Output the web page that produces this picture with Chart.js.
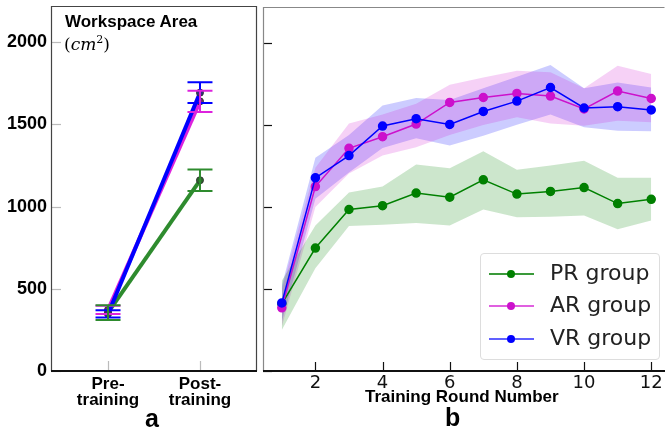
<!DOCTYPE html>
<html>
<head>
<meta charset="utf-8">
<script src="https://cdn.jsdelivr.net/npm/chart.js@4"></script>
<style>
  body { margin: 0; background: #fff; }
  #wrap { position: relative; width: 665px; height: 433px; overflow: hidden; }
  canvas { position: absolute; top: 0; }
  .txt { position: absolute; white-space: nowrap; color: #000; }
  .bold { font-family: "Liberation Sans", Arial, sans-serif; font-weight: bold; }
  #legend { position: absolute; left: 480px; top: 253px; width: 178px; height: 105px;
            border: 1px solid #ddd; border-radius: 4px; background: rgba(255,255,255,0.8);
            font-family: "DejaVu Sans", sans-serif; font-size: 22px; color: #222; }
  .row { position: absolute; left: 0; height: 30px; width: 178px; }
  .row .ln { position: absolute; left: 8px; top: 14px; width: 45px; height: 2px; }
  .row .dot { position: absolute; left: 26px; top: 11px; width: 8px; height: 8px; border-radius: 50%; }
  .row span { position: absolute; left: 69px; top: 1px; }
</style>
</head>
<body>
<div id="wrap">
  <canvas id="left" width="260" height="433" style="left:0;width:260px;height:433px"></canvas>
  <canvas id="right" width="407" height="433" style="left:258px;width:407px;height:433px"></canvas>

  <div class="txt bold" style="left:65px;top:12px;font-size:17px">Workspace Area</div>
  <div class="txt" style="left:64px;top:33px;font-size:17px;font-family:'DejaVu Serif',serif">(<i>cm</i><sup style="font-size:11px">2</sup>)</div>
  <div class="txt bold" style="left:145px;top:404px;font-size:25px">a</div>
  <div class="txt bold" style="left:365px;top:387px;font-size:17px">Training Round Number</div>
  <div class="txt bold" style="left:445px;top:403px;font-size:25px">b</div>

  <div id="legend">
    <div class="row" style="top:5px"><div class="ln" style="background:#3a9a3a"></div><div class="dot" style="background:#008000"></div><span>PR group</span></div>
    <div class="row" style="top:37px"><div class="ln" style="background:#e060e0"></div><div class="dot" style="background:#cc11cc"></div><span>AR group</span></div>
    <div class="row" style="top:70px"><div class="ln" style="background:#6060ff"></div><div class="dot" style="background:#0000ff"></div><span>VR group</span></div>
  </div>
</div>

<script>
// panel a: pre / post training
const phaseLabels = [['Pre-', 'training'], ['Post-', 'training']];
const prPrePost = [355, 1160];
const arPrePost = [372, 1640];
const vrPrePost = [347, 1693];
const prPrePostErr = [45, 65];
const arPrePostErr = [25, 65];
const vrPrePostErr = [22, 63];

// panel b: training rounds
const rounds = [1, 2, 3, 4, 5, 6, 7, 8, 9, 10, 11, 12];
const prMean = [410, 750, 985, 1008, 1085, 1060, 1166, 1079, 1095, 1119, 1021, 1047];
const prUpper = [550, 888, 1089, 1125, 1259, 1237, 1340, 1227, 1253, 1283, 1178, 1178];
const prLower = [250, 626, 884, 892, 902, 888, 985, 938, 940, 949, 864, 918];
const arMean = [385, 1125, 1358, 1429, 1506, 1638, 1668, 1693, 1677, 1598, 1707, 1662];
const arUpper = [500, 1240, 1510, 1565, 1630, 1746, 1790, 1831, 1822, 1725, 1861, 1812];
const arLower = [270, 1000, 1204, 1314, 1364, 1440, 1500, 1547, 1510, 1496, 1527, 1517];
const vrMean = [415, 1178, 1314, 1494, 1539, 1504, 1583, 1646, 1729, 1604, 1612, 1592];
const vrUpper = [520, 1300, 1440, 1620, 1665, 1653, 1725, 1795, 1867, 1725, 1760, 1729];
const vrLower = [300, 1050, 1210, 1360, 1420, 1375, 1435, 1502, 1565, 1486, 1466, 1462];

const yTicks = [0, 500, 1000, 1500, 2000];
const roundTicks = [2, 4, 6, 8, 10, 12];
const yMax = 2220;

// inward tick marks + frame
const frameTicks = {
    id: 'frameTicks',
    afterDatasetsDraw(chart, args, opts) {
        const { ctx, chartArea: a, scales } = chart;
        ctx.save();
        ctx.strokeStyle = opts.tickColor;
        ctx.lineWidth = 1.2;
        scales.x.ticks.forEach(t => {
            const px = Math.round(scales.x.getPixelForValue(t.value)) + 0.5;
            ctx.beginPath(); ctx.moveTo(px, a.bottom); ctx.lineTo(px, a.bottom - opts.len); ctx.stroke();
        });
        scales.y.ticks.forEach(t => {
            const py = Math.round(scales.y.getPixelForValue(t.value)) + 0.5;
            ctx.beginPath(); ctx.moveTo(a.left, py); ctx.lineTo(a.left + opts.len, py); ctx.stroke();
        });
        ctx.strokeStyle = opts.frameColor;
        ctx.lineWidth = 1.2;
        ctx.beginPath();
        ctx.moveTo(a.left + 0.5, a.bottom); ctx.lineTo(a.left + 0.5, a.top + 0.5);
        ctx.lineTo(a.right - 0.5, a.top + 0.5);
        if (opts.rightSpine) ctx.lineTo(a.right - 0.5, a.bottom);
        ctx.stroke();
        ctx.strokeStyle = '#111';
        ctx.lineWidth = 2;
        ctx.beginPath(); ctx.moveTo(a.left, a.bottom); ctx.lineTo(a.right, a.bottom); ctx.stroke();
        ctx.restore();
    }
};

// error bars for panel a
const errorBars = {
    id: 'errorBars',
    afterDatasetsDraw(chart) {
        const { ctx, scales } = chart;
        ctx.save();
        ctx.lineWidth = 2;
        chart.data.datasets.forEach(ds => {
            ds.data.forEach((p, i) => {
                const x = scales.x.getPixelForValue(p.x);
                const y1 = scales.y.getPixelForValue(p.y - ds.err[i]);
                const y2 = scales.y.getPixelForValue(p.y + ds.err[i]);
                ctx.strokeStyle = ds.borderColor;
                ctx.beginPath();
                ctx.moveTo(x, y1); ctx.lineTo(x, y2);
                ctx.moveTo(x - 12.5, y1); ctx.lineTo(x + 12.5, y1);
                ctx.moveTo(x - 12.5, y2); ctx.lineTo(x + 12.5, y2);
                ctx.stroke();
            });
        });
        ctx.restore();
    }
};

function noPadX(s, h) { s.height = h; s.paddingLeft = 0; s.paddingRight = 0; }
function noPadY(s, w) { s.width = w; s.paddingTop = 0; s.paddingBottom = 0; }

function phaseSet(vals, err, color, dark, order) {
    return {
        data: vals.map((v, i) => ({ x: i, y: v })),
        err: err,
        borderColor: color,
        borderWidth: 4,
        pointRadius: 3.5,
        pointBackgroundColor: dark,
        pointBorderColor: '#333',
        pointBorderWidth: 1,
        order: order
    };
}

new Chart(document.getElementById('left'), {
    type: 'line',
    data: {
        datasets: [
            phaseSet(vrPrePost, vrPrePostErr, '#0000ff', '#303080', 1),
            phaseSet(arPrePost, arPrePostErr, '#dd22dd', '#703070', 2),
            phaseSet(prPrePost, prPrePostErr, '#2e8b2e', '#2a6a2a', 3)
        ]
    },
    options: {
        responsive: false,
        animation: false,
        layout: { autoPadding: false, padding: { top: 6, right: 3, left: 0, bottom: 0 } },
        plugins: {
            legend: { display: false },
            tooltip: { enabled: false },
            frameTicks: { tickColor: '#bbb', frameColor: '#444', len: 10, rightSpine: true }
        },
        scales: {
            x: {
                type: 'linear', min: -0.62, max: 1.62,
                afterBuildTicks: s => { s.ticks = phaseLabels.map((l, i) => ({ value: i })); },
                afterFit: s => noPadX(s, 62),
                grid: { display: false, drawTicks: false },
                border: { display: false },
                ticks: {
                    padding: 5, color: '#000', maxRotation: 0,
                    font: { family: 'Liberation Sans', weight: 'bold', size: 17, lineHeight: 0.95 },
                    callback: v => phaseLabels[v]
                }
            },
            y: {
                min: 0, max: yMax,
                afterBuildTicks: s => { s.ticks = yTicks.map(v => ({ value: v })); },
                afterFit: s => noPadY(s, 51),
                grid: { display: false, drawTicks: false },
                border: { display: false },
                ticks: {
                    padding: 4, color: '#000',
                    font: { family: 'Liberation Sans', weight: 'bold', size: 18 },
                    callback: v => String(v)
                }
            }
        }
    },
    plugins: [errorBars, frameTicks]
});

function bandPair(upper, lower, fillColor) {
    return [
        { data: upper, fill: '+1', backgroundColor: fillColor, borderWidth: 0, pointRadius: 0, order: 10 },
        { data: lower, fill: false, borderWidth: 0, pointRadius: 0, order: 10 }
    ];
}

function meanSet(vals, color, order) {
    return {
        data: vals, fill: false, borderColor: color, backgroundColor: color,
        borderWidth: 1.5, pointRadius: 4, pointBackgroundColor: color, pointBorderColor: color,
        order: order
    };
}

new Chart(document.getElementById('right'), {
    type: 'line',
    data: {
        datasets: [
            ...bandPair(prUpper, prLower, 'rgba(0,128,0,0.2)'),
            ...bandPair(arUpper, arLower, 'rgba(204,0,204,0.18)'),
            ...bandPair(vrUpper, vrLower, 'rgba(0,0,255,0.2)'),
            meanSet(prMean, '#008000', 3),
            meanSet(arMean, '#cc11cc', 2),
            meanSet(vrMean, '#0000ff', 1)
        ].map(d => Object.assign(d, { data: d.data.map((v, i) => ({ x: rounds[i], y: v })) }))
    },
    options: {
        responsive: false,
        animation: false,
        layout: { autoPadding: false, padding: { top: 7, right: 0, left: 0, bottom: 0 } },
        plugins: {
            legend: { display: false },
            tooltip: { enabled: false },
            filler: { propagate: false },
            frameTicks: { tickColor: '#111', frameColor: '#888', len: 9, rightSpine: false }
        },
        scales: {
            x: {
                type: 'linear', min: 0.44, max: 12.41,
                afterBuildTicks: s => { s.ticks = roundTicks.map(v => ({ value: v })); },
                afterFit: s => noPadX(s, 62),
                grid: { display: false, drawTicks: false },
                border: { display: false },
                ticks: {
                    padding: 2, color: '#111', maxRotation: 0,
                    font: { family: 'DejaVu Sans', size: 18 },
                    callback: v => String(v)
                }
            },
            y: {
                min: 0, max: yMax,
                afterBuildTicks: s => { s.ticks = yTicks.map(v => ({ value: v })); },
                afterFit: s => noPadY(s, 5),
                grid: { display: false, drawTicks: false },
                border: { display: false },
                ticks: { display: false }
            }
        }
    },
    plugins: [frameTicks]
});
</script>
</body>
</html>
